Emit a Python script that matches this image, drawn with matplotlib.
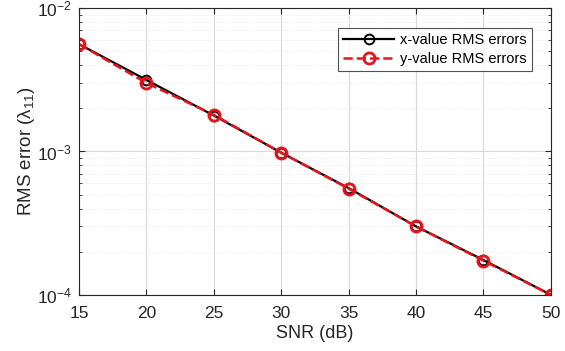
import matplotlib.pyplot as plt
from matplotlib.ticker import LogLocator, NullFormatter

plt.rcParams["font.family"] = ["Liberation Sans", "DejaVu Sans"]
plt.rcParams["mathtext.fontset"] = "custom"
plt.rcParams["mathtext.rm"] = "Liberation Sans"
plt.rcParams["mathtext.default"] = "regular"

snr = [15, 20, 25, 30, 35, 40, 45, 50]
x_rms = [5.6e-3, 3.15e-3, 1.78e-3, 9.8e-4, 5.55e-4, 3.0e-4, 1.75e-4, 1.0e-4]
y_rms = [5.6e-3, 3.0e-3, 1.8e-3, 9.8e-4, 5.5e-4, 3.0e-4, 1.73e-4, 1.0e-4]

fig = plt.figure(figsize=(5.65, 3.51), dpi=100)
ax = fig.add_axes([0.14, 0.16, 0.835, 0.817])

ax.semilogy(snr, x_rms, "-o", color="black", lw=1.6, markersize=7,
            markerfacecolor="none", markeredgewidth=1.4, label="x-value RMS errors")
ax.semilogy(snr, y_rms, "--o", color="#e8141c", lw=1.8, markersize=8,
            markerfacecolor="none", markeredgewidth=2.0, label="y-value RMS errors")

ax.set_xlim(15, 50)
ax.set_ylim(1e-4, 1e-2)
ax.set_xticks(snr)
ax.yaxis.set_major_locator(LogLocator(base=10, numticks=5))
ax.yaxis.set_minor_locator(LogLocator(base=10, subs=range(2, 10), numticks=20))
ax.yaxis.set_minor_formatter(NullFormatter())

ax.grid(True, which="major", color="#d9d9d9", lw=0.8)
ax.grid(True, which="minor", axis="y", color="#e3e3e3", lw=0.6, linestyle=":")
ax.tick_params(which="both", direction="in", top=True, right=True, labelsize=12.5, colors="#262626")
ax.tick_params(which="major", length=4)
ax.tick_params(which="minor", length=2)
ax.tick_params(axis="x", pad=8)
ax.tick_params(axis="y", pad=5)
for s in ax.spines.values():
    s.set_color("#262626")
    s.set_linewidth(0.8)

ax.set_xlabel("SNR (dB)", fontsize=13, color="#262626", labelpad=3)
ax.set_ylabel("RMS error (λ$_{11}$)", fontsize=13.5, color="#262626", labelpad=0)

leg = ax.legend(loc="upper right", fontsize=10.5, fancybox=False, edgecolor="#262626",
                handlelength=3.5, borderpad=0.35, labelspacing=0.3, handletextpad=0.4,
                bbox_to_anchor=(0.975, 0.955))
leg.get_frame().set_linewidth(0.8)

fig.savefig("out.png", dpi=100)
